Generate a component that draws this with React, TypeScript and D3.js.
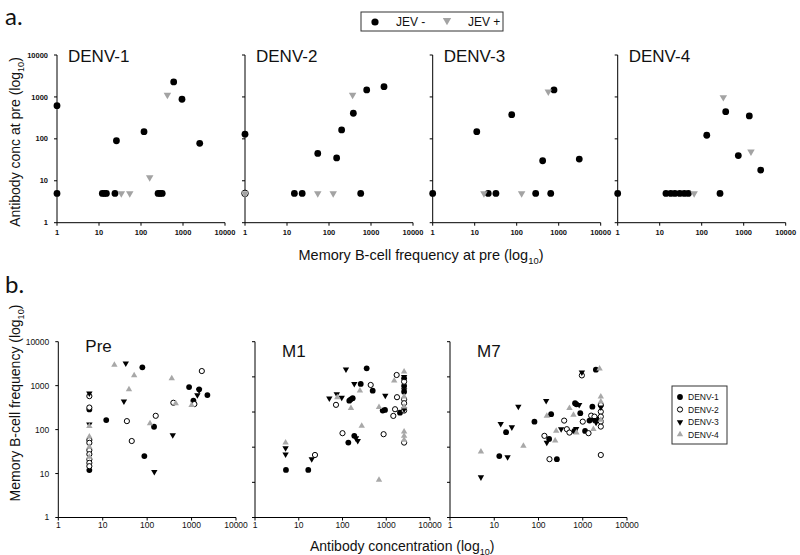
import React from 'react';
import * as d3 from 'd3';

type Pt = [number, number];

// ---------- shared tick values ----------
const xTickVals = [1, 10, 100, 1000, 10000];
const aYTickVals = [1, 10, 100, 1000, 10000];
const preYTickVals = [1, 10, 100, 1000, 10000];
const postYTickVals = [1, 10, 100, 1000, 10000, 100000];

// ---------- panel a: antibody conc vs memory B-cell freq (pre) ----------
const aPanelNames = ['DENV-1', 'DENV-2', 'DENV-3', 'DENV-4'];
const aLegendNames = ['JEV -', 'JEV +'];

const denv1Neg: Pt[] = [[1, 620], [1, 5], [12, 5], [13.5, 5], [15, 5], [24, 5], [26, 90], [118, 148], [255, 5], [285, 5], [320, 5], [600, 2280], [946, 880], [2500, 78]];
const denv1Pos: Pt[] = [[34, 5], [54, 5], [161, 12], [425, 1120]];

const denv2Neg: Pt[] = [[1, 129], [15, 5], [23, 5], [54, 45], [152, 35], [200, 163], [380, 408], [569, 5], [790, 1470], [2040, 1760]];
const denv2Pos: Pt[] = [[1, 5], [54, 5], [126, 5], [365, 1120]];
const denv2Open: Pt[] = [[1, 5]];

const denv3Neg: Pt[] = [[1, 5], [11.2, 148], [21, 5], [32, 5], [76, 378], [283, 5], [415, 30], [646, 5], [772, 1470], [3090, 33]];
const denv3Pos: Pt[] = [[16.6, 5], [131, 5], [566, 1340]];

const denv4Neg: Pt[] = [[1, 5], [14.1, 5], [18.3, 5], [23, 5], [30, 5], [38.5, 5], [48, 5], [132, 122], [273, 5], [373, 446], [744, 40], [1360, 352], [2540, 18]];
const denv4Pos: Pt[] = [[66, 5], [327, 980], [1490, 49.5]];

// ---------- panel b: memory B-cell freq vs antibody conc ----------
const bPanelNames = ['Pre', 'M1', 'M7'];
const serotypes = ['DENV-1', 'DENV-2', 'DENV-3', 'DENV-4'];

const preD1: Pt[] = [[5, 288], [5, 12], [12, 165], [78, 2610], [86.5, 25], [143, 116], [879, 930], [1100, 453], [1480, 824], [2270, 611]];
const preD2: Pt[] = [[5, 577], [5, 318], [5, 58], [5, 50], [5, 34], [5, 27.6], [5, 21], [5, 17.5], [5, 14.7], [35, 156], [45, 55], [156, 206], [389, 408], [1156, 381], [1700, 2150]];
const preD3: Pt[] = [[5, 665], [5, 131], [30, 439], [33, 3220], [145, 10.9], [377, 75], [1350, 611], [1480, 780]];
const preD4: Pt[] = [[5, 120], [5, 69], [5, 40.5], [5, 24], [18.3, 2950], [39, 824], [51, 1710], [116, 138], [358, 1466], [440, 395], [1000, 361]];

const m1D1: Pt[] = [[5.1, 22.6], [16.5, 22.6], [136, 135], [186, 210], [143, 2100], [155, 2300], [171, 2470], [261, 6300], [490, 4050], [830, 1100], [937, 1150], [2060, 960], [2560, 9100], [2560, 5500], [2560, 3800], [357, 17500]];
const m1D2: Pt[] = [[23.5, 60], [100, 250], [71, 1600], [441, 5880], [1450, 775], [1590, 1200], [870, 234], [1730, 11300], [1760, 2640], [2560, 7300], [2560, 2300], [2560, 1780], [2560, 1100], [2560, 135]];
const m1D3: Pt[] = [[5, 94], [5, 63], [19.8, 45.6], [203, 180], [223, 151], [50, 2470], [74, 3250], [96, 2560], [186, 6300], [950, 2920], [2560, 10000], [2560, 4200], [2560, 1200], [120, 16500]];
const m1D4: Pt[] = [[5, 135], [275, 400], [156, 1290], [76, 2620], [250, 4050], [683, 1370], [1520, 7800], [683, 11.7], [2560, 14000], [2560, 2750], [2560, 1420], [2560, 277], [2560, 210], [2560, 160]];

const m7D1: Pt[] = [[13, 56], [18.5, 268], [81, 533], [193, 870], [174, 172], [260, 45.6], [650, 290], [670, 1780], [720, 1660], [880, 925], [1130, 290], [1420, 570], [1650, 1420], [2030, 640], [1980, 16000]];
const m7D2: Pt[] = [[136, 210], [177, 45.6], [380, 570], [437, 325], [500, 260], [1000, 533], [1350, 250], [1550, 790], [1840, 740], [955, 11000], [2560, 1590], [2560, 1020], [2560, 740], [2560, 535], [2560, 385], [2560, 60]];
const m7D3: Pt[] = [[5, 14], [20, 52], [14, 458], [25, 370], [35, 1420], [149, 2070], [154, 135], [325, 325], [710, 330], [830, 1590], [1740, 600], [2000, 500], [955, 13500], [2560, 1370]];
const m7D4: Pt[] = [[5, 75], [45.6, 109], [154, 775], [251, 290], [238, 154], [500, 1290], [617, 830], [720, 260], [1740, 325], [2560, 2750], [2560, 1980], [2560, 600], [2400, 17000]];

// ---------- layout / style ----------
const FONT = "'Liberation Sans', Arial, Helvetica, sans-serif";
const GRAY_A = '#a3a3a3';
const GRAY_B = '#a8a8a8';

type Kind = 'dot' | 'open' | 'down' | 'downGray' | 'upGray';

function Marker({ kind, x, y, s }: { kind: Kind; x: number; y: number; s: number }) {
  if (kind === 'dot') return <circle cx={x} cy={y} r={s} fill="#000" />;
  if (kind === 'open') return <circle cx={x} cy={y} r={s} fill="#fff" stroke="#000" strokeWidth={1} />;
  const w = s * 1.1;
  const h = s * 1.9;
  if (kind === 'upGray') {
    return <path d={`M${x - w},${y + h / 3}L${x + w},${y + h / 3}L${x},${y - (2 * h) / 3}Z`} fill={GRAY_B} />;
  }
  const fill = kind === 'down' ? '#000' : GRAY_A;
  return <path d={`M${x - w},${y - h / 3}L${x + w},${y - h / 3}L${x},${y + (2 * h) / 3}Z`} fill={fill} />;
}

function Log10Label({ x, y, text, size, rotate, anchor }: { x: number; y: number; text: string; size: number; rotate?: boolean; anchor?: string }) {
  return (
    <text
      x={x}
      y={y}
      fontFamily={FONT}
      fontSize={size}
      fill="#111"
      textAnchor={anchor || 'middle'}
      transform={rotate ? `rotate(-90,${x},${y})` : undefined}
    >
      {text} (log
      <tspan fontSize={size * 0.65} dy={size * 0.25}>10</tspan>
      <tspan dy={-size * 0.25}>)</tspan>
    </text>
  );
}

interface AxesProps {
  x: d3.ScaleLogarithmic<number, number>;
  y: d3.ScaleLogarithmic<number, number>;
  yTicks: number[];
  showYLabels: boolean;
  yLabelTicks: number[];
  tickFont: number;
  bold: boolean;
  xLabelY: number;
}

function Axes({ x, y, yTicks, showYLabels, yLabelTicks, tickFont, bold, xLabelY }: AxesProps) {
  const [x0, x1] = x.range();
  const [y0, y1] = y.range();
  return (
    <g>
      <line x1={x0} x2={x1} y1={y0} y2={y0} stroke="#000" strokeWidth={1} />
      <line x1={x0} x2={x0} y1={y0} y2={y1} stroke="#000" strokeWidth={1} />
      {xTickVals.map((v) => (
        <g key={'xt' + v}>
          <line x1={x(v)} x2={x(v)} y1={y0} y2={y0 + 3} stroke="#000" />
          <text x={x(v)} y={xLabelY} textAnchor="middle" fontFamily={FONT} fontSize={tickFont} fontWeight={bold ? 'bold' : 'normal'} fill="#111">
            {String(v)}
          </text>
        </g>
      ))}
      {yTicks.map((v) => (
        <line key={'yt' + v} x1={x0 - 3} x2={x0} y1={y(v)} y2={y(v)} stroke="#000" />
      ))}
      {showYLabels &&
        yLabelTicks.map((v) => (
          <text key={'yl' + v} x={x0 - 9} y={y(v) + tickFont * 0.35} textAnchor="end" fontFamily={FONT} fontSize={tickFont} fontWeight={bold ? 'bold' : 'normal'} fill="#111">
            {String(v)}
          </text>
        ))}
    </g>
  );
}

const aX0 = [57, 245, 432.7, 617.7];
const aW = 168;
const aTop = 55;
const aBot = 222.7;

const aData: { neg: Pt[]; pos: Pt[]; open: Pt[] }[] = [
  { neg: denv1Neg, pos: denv1Pos, open: [] },
  { neg: denv2Neg, pos: denv2Pos, open: denv2Open },
  { neg: denv3Neg, pos: denv3Pos, open: [] },
  { neg: denv4Neg, pos: denv4Pos, open: [] },
];

const bX0 = [58.3, 255, 450];
const bX1 = [236, 430, 627];
const bTop = 341.7;
const bBot = 517.5;
const bSeries: Pt[][][] = [
  [preD1, preD2, preD3, preD4],
  [m1D1, m1D2, m1D3, m1D4],
  [m7D1, m7D2, m7D3, m7D4],
];
const bKinds: Kind[] = ['dot', 'open', 'down', 'upGray'];

export default function App() {
  return (
    <svg width={800} height={555} style={{ position: 'absolute', left: 0, top: 0, background: '#fff' }}>
      <rect x={0} y={0} width={800} height={555} fill="#fff" />
      {/* section labels */}
      <text x={5} y={25} fontFamily="Lato, 'Open Sans', sans-serif" fontSize={24} fill="#111">a.</text>
      <text x={5} y={293} fontFamily="Lato, 'Open Sans', sans-serif" fontSize={24} fill="#111">b.</text>

      {/* legend a */}
      <g>
        <rect x={361} y={12} width={142} height={19} fill="#fff" stroke="#333" strokeWidth={1} />
        <Marker kind="dot" x={375} y={22} s={3.6} />
        <text x={396} y={26} fontFamily={FONT} fontSize={12} fill="#111">{aLegendNames[0]}</text>
        <Marker kind="downGray" x={447} y={20.5} s={3.8} />
        <text x={468} y={26} fontFamily={FONT} fontSize={12} fill="#111">{aLegendNames[1]}</text>
      </g>

      {/* panel a */}
      {aData.map((pd, i) => {
        const x = d3.scaleLog().domain([1, 10000]).range([aX0[i], aX0[i] + aW]);
        const y = d3.scaleLog().domain([1, 10000]).range([aBot, aTop]);
        return (
          <g key={'a' + i}>
            <Axes x={x} y={y} yTicks={aYTickVals} showYLabels={i === 0} yLabelTicks={aYTickVals} tickFont={7.5} bold={true} xLabelY={235} />
            <text x={aX0[i] + 11} y={62} fontFamily={FONT} fontSize={17} fill="#111">{aPanelNames[i]}</text>
            {pd.open.map((p, k) => (
              <Marker key={'o' + k} kind="open" x={x(p[0])} y={y(p[1])} s={3.3} />
            ))}
            {pd.neg.map((p, k) => (
              <Marker key={'n' + k} kind="dot" x={x(p[0])} y={y(p[1])} s={3.4} />
            ))}
            {pd.pos.map((p, k) => (
              <Marker key={'p' + k} kind="downGray" x={x(p[0])} y={y(p[1])} s={3.4} />
            ))}
          </g>
        );
      })}
      <Log10Label x={421} y={260} text="Memory B-cell frequency at pre" size={14.5} />
      <Log10Label x={20} y={142} text="Antibody conc at pre" size={14} rotate />

      {/* panel b */}
      {bSeries.map((ser, i) => {
        const x = d3.scaleLog().domain([1, 10000]).range([bX0[i], bX1[i]]);
        const yMax = i === 0 ? 10000 : 100000;
        const y = d3.scaleLog().domain([1, yMax]).range([bBot, bTop]);
        return (
          <g key={'b' + i}>
            <Axes x={x} y={y} yTicks={i === 0 ? preYTickVals : postYTickVals} showYLabels={i === 0} yLabelTicks={preYTickVals} tickFont={8.5} bold={false} xLabelY={528} />
            <text x={bX0[i] + 27} y={i === 0 ? 352 : 357} fontFamily={FONT} fontSize={17} fill="#111">{bPanelNames[i]}</text>
            {ser.map((pts, s) =>
              pts.map((p, k) => <Marker key={s + '-' + k} kind={bKinds[s]} x={x(p[0])} y={y(p[1])} s={s === 1 ? 2.6 : 2.9} />)
            )}
          </g>
        );
      })}
      <Log10Label x={310} y={551} text="Antibody concentration" size={14} anchor="start" />
      <Log10Label x={20} y={403} text="Memory B-cell frequency" size={14} rotate />

      {/* legend b */}
      <g>
        <rect x={672} y={386} width={55} height={58} fill="#fff" stroke="#333" strokeWidth={1} />
        {serotypes.map((n, k) => (
          <g key={'lg' + k}>
            <Marker kind={bKinds[k]} x={680} y={397 + k * 12.5} s={k === 1 ? 2.6 : 2.9} />
            <text x={688} y={400 + k * 12.5} fontFamily={FONT} fontSize={8.5} fill="#111">{n}</text>
          </g>
        ))}
      </g>
    </svg>
  );
}
